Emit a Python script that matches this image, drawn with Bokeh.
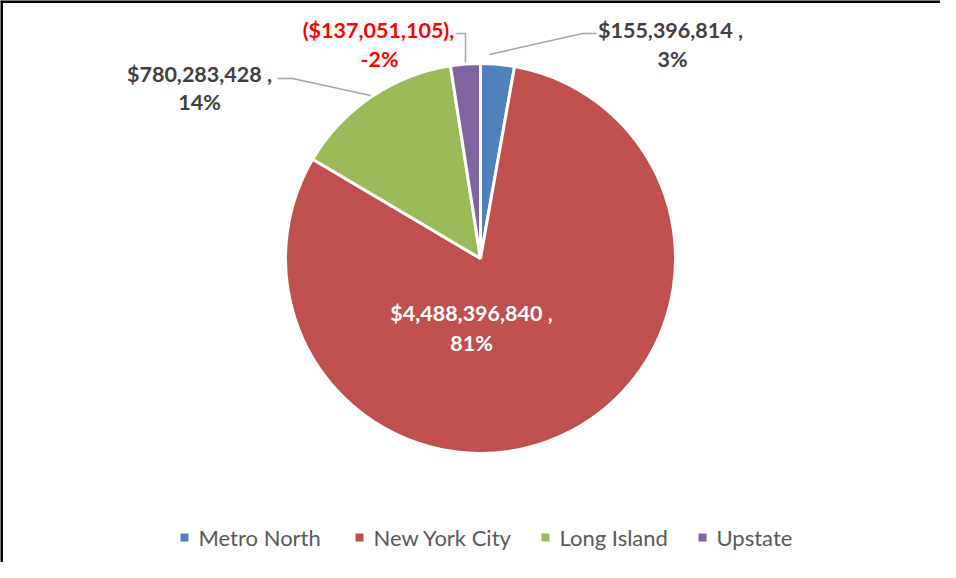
import math
from bokeh.plotting import figure
from bokeh.models import Range1d, ColumnDataSource
from bokeh.core.properties import value
from bokeh.embed import file_html
from bokeh.resources import INLINE

# ---- data ----
regions = ["Metro North", "New York City", "Long Island", "Upstate"]
amounts = [155396814, 4488396840, 780283428, -137051105]
colors = ["#4F81BD", "#C0504D", "#9BBB59", "#8064A2"]

W, H = 940, 562
p = figure(width=W, height=H, output_backend="svg", toolbar_location=None,
           x_range=Range1d(0, W), y_range=Range1d(0, H),
           x_axis_location=None, y_axis_location=None, min_border=0)
p.grid.visible = False
p.outline_line_color = None
p.background_fill_color = "white"
p.border_fill_color = "white"

def sx(x):
    return x - 8
def sy(y):
    return 570 - y

# ---- wedges ----
absvals = [abs(a) for a in amounts]
total = sum(absvals)
starts, ends = [], []
cum = 0.0
for v in absvals:
    starts.append(math.pi / 2 - cum / total * 2 * math.pi)
    cum += v
    ends.append(math.pi / 2 - cum / total * 2 * math.pi)

src = ColumnDataSource(dict(start=starts, end=ends, color=colors, region=regions))
cx, cy, r = sx(488), sy(266), 195
p.wedge(x=cx, y=cy, radius=r, start_angle="start", end_angle="end",
        direction="clock", fill_color="color", line_color="white",
        line_width=3, source=src)

# ---- labels ----
def money(a):
    if a < 0:
        return f"(${abs(a):,}),"
    return f"${a:,} ,"

def pct(a):
    v = round(abs(a) / total * 100)
    return f"-{v}%" if a < 0 else f"{v}%"

label_pos = [((678, 37), (680, 66)), ((479, 320), (479, 350)),
             ((207, 81), (207, 109)), ((386, 37), (387, 66))]
label_col = ["#404040", "white", "#404040", "#FF0000"]

lx, ly, lt, lc = [], [], [], []
for a, (l1, l2), c in zip(amounts, label_pos, label_col):
    lx += [sx(l1[0]), sx(l2[0])]
    ly += [sy(l1[1]), sy(l2[1])]
    lt += [money(a), pct(a)]
    lc += [c, c]
p.text(x=lx, y=ly, text=lt, text_color=lc, text_align="center",
       text_baseline="middle", text_font=value("Lato"),
       text_font_style="bold", text_font_size="21.5px")

# ---- leader lines ----
leaders = [[(604, 41), (590, 41), (497, 62)],
           [(464, 41), (473, 41), (473, 70)],
           [(285, 86), (300, 86), (378, 103)]]
p.multi_line(xs=[[sx(x) for x, _ in L] for L in leaders],
             ys=[[sy(y) for _, y in L] for L in leaders],
             line_color="#A6A6A6", line_width=1.5)

# ---- legend ----
sq_x = [192, 367, 553, 710]
p.rect(x=[sx(x) for x in sq_x], y=[sy(545)] * 4, width=8, height=8,
       fill_color=colors, line_color=None)
p.text(x=[sx(x + 14) for x in sq_x], y=[sy(545)] * 4, text=regions,
       text_color="#595959", text_align="left", text_baseline="middle",
       text_font=value("Lato"), text_font_size="22px")

# ---- frame (top and left edges visible) ----
p.segment(x0=[0, 1], y0=[H - 1, 0], x1=[W, 1], y1=[H - 1, H],
          line_color="black", line_width=3)

open("out.html", "w").write(file_html(p, INLINE))
